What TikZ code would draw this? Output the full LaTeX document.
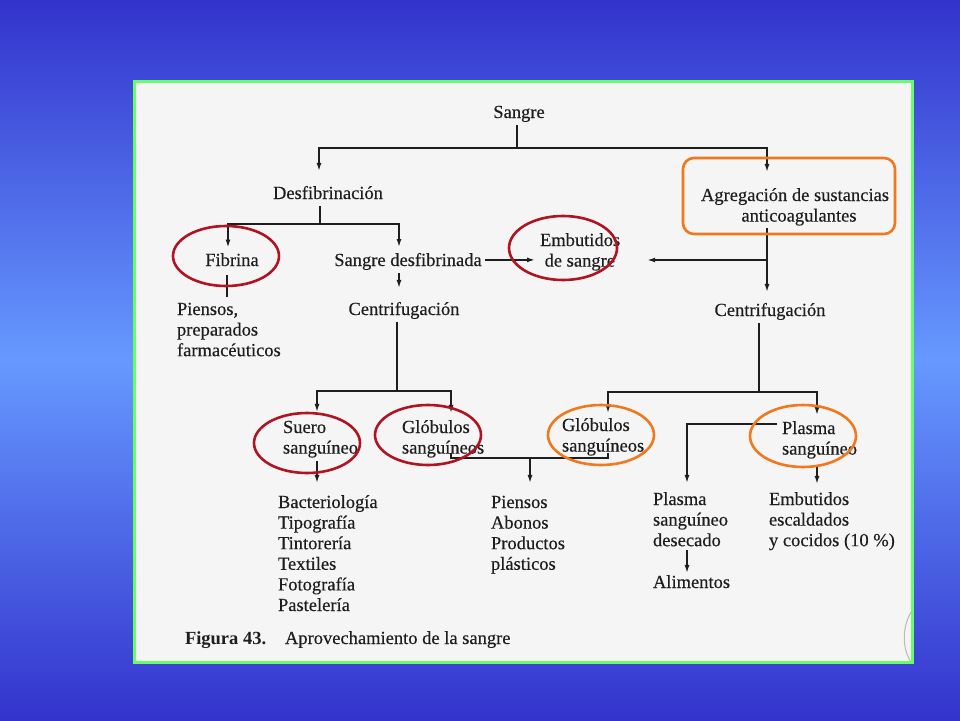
\documentclass[tikz,border=0pt]{standalone}
\usepackage{fontspec}
\setmainfont{Liberation Serif}
\newfontfamily\inkfont{Liberation Serif}[FakeBold=0.35]
\usetikzlibrary{arrows.meta}
\definecolor{bgdark}{RGB}{51,51,204}
\definecolor{bglight}{RGB}{102,153,255}
\definecolor{pagegreen}{RGB}{102,255,102}
\definecolor{pagefill}{RGB}{245,245,245}
\definecolor{ink}{RGB}{30,30,30}
\definecolor{markred}{RGB}{175,20,35}
\definecolor{markorange}{RGB}{240,120,30}
\newcommand{\TLx}[1]{\begin{tabular}[t]{@{}l@{}}#1\end{tabular}}
\newcommand{\TCx}[1]{\begin{tabular}[t]{@{}c@{}}#1\end{tabular}}
\tikzset{
  txt/.style={inner sep=0pt, outer sep=0pt, text=ink, font=\inkfont\fontsize{18.5}{20.6}\selectfont},
  ln/.style={draw=ink, line width=1.5pt},
  arr/.style={ln, -{Latex[length=8pt,width=5pt]}},
  redmark/.style={draw=markred, line width=2.6pt},
  orgmark/.style={draw=markorange, line width=2.6pt},
}
\begin{document}
\begin{tikzpicture}[x=1pt,y=-1pt]
\useasboundingbox (0,0) rectangle (960,720);
% background
\shade[top color=bgdark, bottom color=bglight] (0,0) rectangle (960,360.5);
\shade[top color=bglight, bottom color=bgdark] (0,360) rectangle (960,720);
% page
\fill[pagefill] (134.5,81.5) rectangle (912,662.5);
\draw[gray!55, line width=1pt] (911,612) .. controls (902,628) and (902,648) .. (911,662);
\draw[pagegreen, line width=3pt] (134.5,81.5) rectangle (912,662.5);

% texts
\node[txt, anchor=base] (sangre) at (519,118) {\TCx{Sangre}};
\node[txt, anchor=base] (desf) at (328,199) {\TCx{Desfibrinación}};
\node[txt, anchor=base] (fibrina) at (232,266) {\TCx{Fibrina}};
\node[txt, anchor=base] (sdesf) at (408,266) {\TCx{Sangre desfibrinada}};
\node[txt, anchor=base west] (piensosA) at (177,315) {\TLx{Piensos,\\preparados\\farmacéuticos}};
\node[txt, anchor=base] (centL) at (404,315) {\TCx{Centrifugación}};
\node[txt, anchor=base west] (embS) at (540,246) {\TLx{Embutidos\\\ de sangre}};
\node[txt, anchor=base] (agreg) at (795,201) {\TCx{Agregación de sustancias\\\hspace*{8pt}anticoagulantes}};
\node[txt, anchor=base] (centR) at (770,316) {\TCx{Centrifugación}};
\node[txt, anchor=base west] (suero) at (283,433) {\TLx{Suero\\sanguíneo}};
\node[txt, anchor=base west] (globL) at (402,433) {\TLx{Glóbulos\\sanguíneos}};
\node[txt, anchor=base west] (bact) at (278,508) {\TLx{Bacteriología\\Tipografía\\Tintorería\\Textiles\\Fotografía\\Pastelería}};
\node[txt, anchor=base west] (piensosB) at (491,508) {\TLx{Piensos\\Abonos\\Productos\\plásticos}};
\node[txt, anchor=base west] (globR) at (562,431) {\TLx{Glóbulos\\sanguíneos}};
\node[txt, anchor=base west] (plasma) at (782,434) {\TLx{Plasma\\sanguíneo}};
\node[txt, anchor=base west] (desec) at (653,505) {\TLx{Plasma\\sanguíneo\\desecado}};
\node[txt, anchor=base west] (alim) at (653,588) {\TLx{Alimentos}};
\node[txt, anchor=base west] (embE) at (769,505) {\TLx{Embutidos\\escaldados\\y cocidos (10 \%)}};
\node[txt, anchor=base west, font=\rmfamily\fontsize{18.5}{20.6}\selectfont\bfseries] (figlab) at (185,644) {Figura 43.};
\node[txt, anchor=base west] (figcap) at (285,644) {Aprovechamiento de la sangre};

% junctions
\coordinate (jT) at (517,148);
\coordinate (jD) at (320,224);
\coordinate (jR) at (767,260);
\coordinate (jCL) at (397,391);
\coordinate (jCR) at (759,392);
\coordinate (jG) at (530,458);

% connectors
\draw[ln] ([yshift=-1pt]sangre.south -| jT) -- (jT);
\draw[arr] (jT) -| ([yshift=13.6pt]desf.north -| 319,0);
\draw[arr] (jT) -| ([yshift=14.6pt]agreg.north -| 767,0);
\draw[ln] ([yshift=-1pt]desf.south -| jD) -- (jD);
\draw[arr] (jD) -| ([yshift=4pt]fibrina.north -| 228,0);
\draw[arr] (jD) -| ([yshift=4.5pt]sdesf.north -| 399,0);
\draw[ln] ([yshift=-3pt]fibrina.south -| 227,0) -- ([yshift=3.6pt]piensosA.north -| 227,0);
\draw[arr] ([yshift=-1pt]sdesf.south -| 399,0) -- ([yshift=12.6pt]centL.north -| 399,0);
\draw[arr] ([xshift=3pt,yshift=2pt]sdesf.east) -- ([xshift=-5pt,yshift=2pt]sdesf.east -| embS.west);
\draw[arr] ([yshift=-0.5pt]agreg.south -| 767,0) -- ([yshift=9.6pt]centR.north -| 767,0);
\draw[arr] (jR) -- ([xshift=27pt]embS.east |- jR);
\draw[ln] ([yshift=-1pt]centL.south -| jCL) -- (jCL);
\draw[arr] (jCL) -| ([yshift=6.6pt]suero.north -| 317,0);
\draw[arr] (jCL) -| ([yshift=5.6pt]globL.north -| 451,0);
\draw[ln] ([yshift=-1pt]centR.south -| jCR) -- (jCR);
\draw[arr] (jCR) -| ([yshift=3.6pt]globR.north -| 608,0);
\draw[arr] (jCR) -| ([yshift=4.6pt]plasma.north -| 817,0);
\draw[arr] ([yshift=-1pt]suero.south -| 317,0) -- ([yshift=10.6pt]bact.north -| 317,0);
\draw[ln] ([yshift=7pt]globL.south -| 451,0) |- (jG) -| ([yshift=5pt]globR.south -| 608,0);
\draw[arr] (jG) -- ([yshift=10.6pt]piensosB.north -| jG);
\draw[arr] ([xshift=-5pt,yshift=10pt]plasma.base west) -| ([yshift=7.6pt]desec.north -| 687,0);
\draw[arr] ([yshift=-4pt]plasma.south -| 817,0) -- ([yshift=6.6pt]embE.north -| 817,0);
\draw[arr] ([yshift=2pt]desec.south -| 687,0) -- ([yshift=0.6pt]alim.north -| 687,0);

% highlight marks
\draw[redmark] (226,256) ellipse [x radius=53, y radius=30];
\draw[redmark] (563,248) ellipse [x radius=54, y radius=32];
\draw[redmark] (307,443) ellipse [x radius=53, y radius=30];
\draw[redmark] (428,435) ellipse [x radius=53, y radius=30];
\draw[orgmark] (601,435) ellipse [x radius=53, y radius=30];
\draw[orgmark] (803,436) ellipse [x radius=53, y radius=31];
\draw[orgmark, rounded corners=11pt] (683,158) rectangle (895,234);
\end{tikzpicture}
\end{document}
